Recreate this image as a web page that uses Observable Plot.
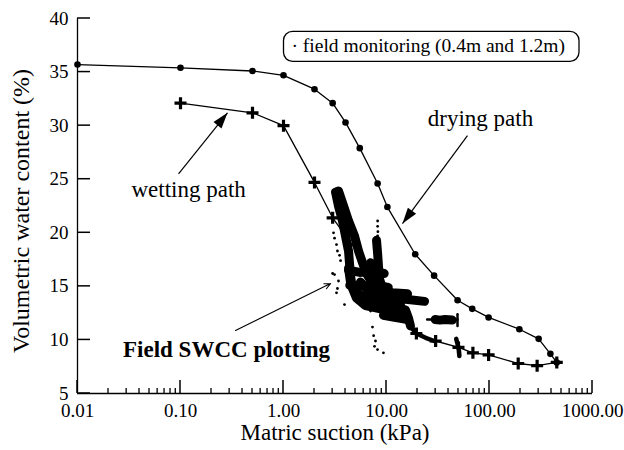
<!DOCTYPE html>
<html><head><meta charset="utf-8">
<script src="https://cdn.jsdelivr.net/npm/d3@7"></script>
<script src="https://cdn.jsdelivr.net/npm/@observablehq/plot@0.6"></script>
<style>body{margin:0;background:#fff}</style>
</head><body><div id="chart"></div>
<script>
// ---------- data ----------
const dryingSuction = [0.01, 0.1, 0.5, 1.0, 2.0, 3.0, 4.0, 5.5, 8.2, 10.2, 19, 29, 49, 68, 98, 195, 300, 390, 450];
const dryingVWC     = [35.7, 35.4, 35.1, 34.7, 33.4, 32.1, 30.3, 27.9, 24.6, 22.4, 18.0, 16.0, 13.7, 12.9, 12.1, 11.0, 10.1, 8.7, 7.9];

const wettingSuction = [0.1, 0.5, 1.0, 2.0, 3.0, 19.5, 30, 50, 69, 98, 190, 290, 450];
const wettingVWC     = [32.1, 31.2, 30.0, 24.7, 21.4, 10.6, 9.9, 9.3, 8.8, 8.6, 7.8, 7.6, 7.9];

// field monitoring traces [suction kPa, VWC %]
const fieldTraceA = [[3.20,23.8],[3.42,22.5],[3.74,21.1],[4.00,19.7],[4.28,18.3],[4.37,17.2],[4.47,16.0],[4.68,14.8],[5.11,13.9],[6.25,13.2],[8.74,12.9],[12.2,12.7]];
const fieldTraceB = [[3.42,23.9],[3.83,22.5],[4.28,21.1],[4.89,19.7],[5.35,18.3],[5.85,17.2],[6.39,16.2],[7.31,15.3],[8.74,14.6],[11.4,14.4],[16.0,14.3]];
const fieldTraceC = [[8.0,19.3],[8.18,18.2],[8.36,16.9],[8.55,15.7],[9.14,14.8],[10.9,14.0],[15.3,13.8],[23.4,13.6]];
const fieldTraceD = [[4.28,16.7],[4.47,15.4],[5.11,14.4],[6.39,13.9],[8.36,13.4],[11.4,13.2],[15.3,12.8],[16.4,12.0],[17.1,11.3]];
const fieldTraceE = [[5.59,15.4],[6.69,14.6],[8.36,14.0],[10.9,13.7],[13.7,13.4]];
const fieldTraceF = [[6.99,17.2],[7.31,16.2],[7.82,14.8]];
const fieldTraceG = [[13.1,12.5],[16,11.6],[19.5,10.6],[24,10.2],[29,9.9]];
const fieldTraceH = [[24.8,11.9],[29.7,11.9],[33,11.8],[37,11.9],[43.5,11.8],[48.9,11.9]];
const fieldTraceI = [[29.7,11.9],[33,11.85],[37,11.9],[43.5,11.85]];
const fieldTraceJ = [[48.9,12.4],[48.9,11.3]];
const fieldTraceK = [[47.5,10.1],[49,9.6],[50.5,9.0],[51,8.5]];
const fieldTraceL = [[4.28,16.5],[5.5,16.3],[7.3,16.4],[9.5,16.2]];
const fieldTraceM = [[4.4,15.1],[6.0,15.0],[8.0,15.1],[10.4,14.9]];
const fieldTraceN = [[8.36,13.1],[11.0,12.8],[15.3,12.6]];
const fieldTraceO = [[9.34,12.3],[12.0,12.1],[16.0,11.9]];
const fieldDots = [[8.2,21.1],[8.2,20.6],[8.25,20.1],[8.2,19.7],
  [3.06,20.0],[3.13,19.5],[3.27,18.9],[3.34,18.3],[3.5,17.9],[3.58,17.4],
  [3.0,16.2],[3.13,16.1],[3.42,15.5],[3.34,14.8],[3.27,14.4],[3.91,13.3],
  [7.0,12.7],[7.31,11.2],[7.5,10.4],[7.82,9.9],[7.65,9.4],[8.18,9.1],[9.34,8.8]];

// axes
const xDomain = [0.01, 1000];
const yDomain = [5, 40];
const xTicks = [0.01, 0.1, 1, 10, 100, 1000];
const xTickLabels = ["0.01", "0.10", "1.00", "10.00", "100.00", "1000.00"];
const yTicks = [5, 10, 15, 20, 25, 30, 35, 40];
const minorMultipliers = [2, 3, 4, 5, 6, 7, 8, 9];

// annotations
const labelTexts   = ["drying path", "wetting path"];
const labelSuction = [81.8, 0.12];
const labelVWC     = [30.7, 24.0];
const boldText = "Field SWCC plotting";
const boldSuction = 0.28, boldVWC = 9.1;
const legendText = "\u00b7 field monitoring (0.4m and 1.2m)";
const arrowFromSuction = [0.0957, 61.1];
const arrowFromVWC     = [25.5, 29.07];
const arrowToSuction   = [0.286, 14.3];
const arrowToVWC       = [31.2, 20.86];
const openArrow = {fromSuction: 0.342, fromVWC: 10.88, toSuction: 2.86, toVWC: 15.26};

// ---------- layout ----------
const W = 624, H = 450;
const MG = {top: 18, right: 32, bottom: 57, left: 77};
const majorTickLen = 13, minorTickLen = 5;

const drying = dryingSuction.map((s, i) => ({s, v: dryingVWC[i]}));
const wetting = wettingSuction.map((s, i) => ({s, v: wettingVWC[i]}));
const traces = {A: fieldTraceA, B: fieldTraceB, C: fieldTraceC, D: fieldTraceD, E: fieldTraceE, F: fieldTraceF,
  G: fieldTraceG, H: fieldTraceH, I: fieldTraceI, J: fieldTraceJ, K: fieldTraceK,
  L: fieldTraceL, M: fieldTraceM, N: fieldTraceN, O: fieldTraceO};
const field = Object.entries(traces).flatMap(([k, arr]) => arr.map(([s, v]) => ({trace: k, s, v})));
const thick = field.filter(d => "ABCDEFILMNO".includes(d.trace));
const medium = field.filter(d => "GK".includes(d.trace));
const thin = field.filter(d => "HJ".includes(d.trace));
const dots = fieldDots.map(([s, v]) => ({s, v}));
const xMinorTicks = xTicks.slice(0, -1).flatMap(d => minorMultipliers.map(k => +(k * d).toPrecision(3)));

// scales (same as the plot's), used for arrowhead angles
const xs = Plot.scale({x: {type: "log", domain: xDomain, range: [MG.left, W - MG.right]}});
const ys = Plot.scale({y: {type: "linear", domain: yDomain, range: [H - MG.bottom, MG.top]}});
const arrows = arrowFromSuction.map((s, i) => {
  const x1 = xs.apply(s), y1 = ys.apply(arrowFromVWC[i]);
  const x2 = xs.apply(arrowToSuction[i]), y2 = ys.apply(arrowToVWC[i]);
  return {x1: s, y1: arrowFromVWC[i], x2: arrowToSuction[i], y2: arrowToVWC[i],
    angle: Math.atan2(x2 - x1, -(y2 - y1)) * 180 / Math.PI};
});

const crossSymbol = {draw(ctx, size) { const r = Math.sqrt(size / Math.PI);
  ctx.moveTo(-r, 0); ctx.lineTo(r, 0); ctx.moveTo(0, -r); ctx.lineTo(0, r); }};
const headSymbol = {draw(ctx, size) { const L = Math.sqrt(size / Math.PI), w = L * 0.32;
  ctx.moveTo(0, 0); ctx.lineTo(-w, L); ctx.lineTo(w, L); ctx.closePath(); }};

const chart = Plot.plot({
  width: W, height: H,
  marginTop: MG.top, marginRight: MG.right, marginBottom: MG.bottom, marginLeft: MG.left,
  x: {type: "log", domain: xDomain, label: null},
  y: {type: "linear", domain: yDomain, label: null},
  style: {fontFamily: "'Liberation Serif', 'Times New Roman', serif", fontSize: "19px", background: "white"},
  marks: [
    // curves
    Plot.line(drying, {x: "s", y: "v", stroke: "black", strokeWidth: 1.3}),
    Plot.dot(drying, {x: "s", y: "v", r: 3.3, fill: "black"}),
    Plot.line(wetting, {x: "s", y: "v", stroke: "black", strokeWidth: 1.3}),
    Plot.dot(wetting, {x: "s", y: "v", symbol: crossSymbol, r: 6, stroke: "black", fill: "none", strokeWidth: 3.2}),
    // field monitoring
    Plot.line(thick, {x: "s", y: "v", z: "trace", stroke: "black", strokeWidth: 9, strokeLinecap: "round", strokeLinejoin: "round"}),
    Plot.line(medium, {x: "s", y: "v", z: "trace", stroke: "black", strokeWidth: 4.5, strokeLinecap: "round", strokeLinejoin: "round"}),
    Plot.line(thin, {x: "s", y: "v", z: "trace", stroke: "black", strokeWidth: 2.5, strokeLinecap: "round"}),
    Plot.dot(dots, {x: "s", y: "v", r: 1.4, fill: "black"}),
    // arrows
    Plot.link(arrows, {x1: "x1", y1: "y1", x2: "x2", y2: "y2", stroke: "black", strokeWidth: 1.2}),
    Plot.dot(arrows, {x: "x2", y: "y2", symbol: headSymbol, r: 16, rotate: "angle", fill: "black", stroke: "none"}),
    Plot.arrow([openArrow], {x1: "fromSuction", y1: "fromVWC", x2: "toSuction", y2: "toVWC", stroke: "black", strokeWidth: 1.1, headLength: 9, headAngle: 50}),
    // annotation text
    Plot.text(labelTexts, {x: (d, i) => labelSuction[i], y: (d, i) => labelVWC[i], text: d => d, fontSize: 23, fill: "black"}),
    Plot.text([boldText], {x: [boldSuction], y: [boldVWC], text: d => d, fontSize: 23, fontWeight: "bold", fill: "black"}),
    Plot.text([legendText], {frameAnchor: "top-left", dx: 214, dy: 20, textAnchor: "start", fontSize: 19.5, fill: "black"}),
    Plot.text(["Volumetric water content (%)"], {frameAnchor: "left", textAnchor: "middle", dx: -56, dy: 5, rotate: -90, fontSize: 24, fill: "black"}),
    Plot.text(["Matric suction (kPa)"], {frameAnchor: "bottom", dy: 46, fontSize: 23, fill: "black"}),
    // axis lines and tick labels
    Plot.ruleX([xDomain[0]], {stroke: "black", strokeWidth: 1.3}),
    Plot.ruleY([yDomain[0]], {stroke: "black", strokeWidth: 1.3}),
    Plot.axisY(yTicks, {tickSize: 0, tickPadding: 9, fontSize: 19, fill: "black", label: null}),
    Plot.axisX(xTicks, {tickSize: 0, tickPadding: 10, fontSize: 19, fill: "black", label: null,
      tickFormat: d => xTickLabels[xTicks.indexOf(d)]})
  ]
});
document.getElementById("chart").append(chart);

// inward ticks, placed with the plot's own x and y scales, drawn on top
const sx = chart.scale("x"), sy = chart.scale("y");
const tg = d3.select(chart).append("g").attr("stroke", "black").attr("fill", "none");
const x0 = sx.apply(xDomain[0]), y0 = sy.apply(yDomain[0]);
yTicks.forEach(v => tg.append("line")
  .attr("x1", x0).attr("x2", x0 + majorTickLen).attr("y1", sy.apply(v)).attr("y2", sy.apply(v)).attr("stroke-width", 1.5));
xTicks.forEach(v => tg.append("line")
  .attr("x1", sx.apply(v)).attr("x2", sx.apply(v)).attr("y1", y0).attr("y2", y0 - majorTickLen).attr("stroke-width", 1.5));
xMinorTicks.forEach(v => tg.append("line")
  .attr("x1", sx.apply(v)).attr("x2", sx.apply(v)).attr("y1", y0).attr("y2", y0 - minorTickLen).attr("stroke-width", 1.3));

// rounded legend frame around the legend text
const lt = Array.from(chart.querySelectorAll("text")).find(t => t.textContent === legendText);
if (lt) {
  const sb = chart.getBoundingClientRect(), b = lt.getBoundingClientRect();
  d3.select(chart).append("rect")
    .attr("x", b.left - sb.left - 8).attr("y", (b.top + b.bottom) / 2 - sb.top - 15)
    .attr("width", b.width + 22).attr("height", 30)
    .attr("rx", 9).attr("fill", "none").attr("stroke", "black").attr("stroke-width", 1.3);
}
</script></body></html>
